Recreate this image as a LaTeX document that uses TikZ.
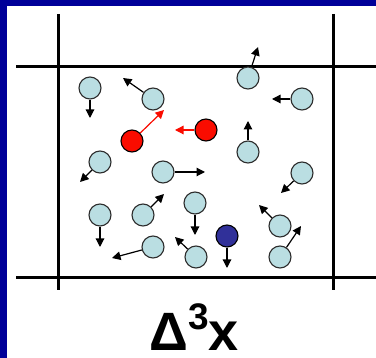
\documentclass[tikz,border=0pt]{standalone}
\usepackage{fontspec}
\setmainfont{Liberation Sans}
\usetikzlibrary{arrows.meta}
\definecolor{frameblue}{RGB}{0,0,153}
\definecolor{gasfill}{RGB}{186,222,226}
\definecolor{gasedge}{RGB}{45,45,45}
\definecolor{hotred}{RGB}{250,12,0}
\definecolor{tracer}{RGB}{48,48,153}
\tikzset{
  wall/.style={line width=3pt, black},
  mol/.style={circle, draw=gasedge, line width=1.1pt, fill=gasfill, minimum size=22pt, inner sep=0pt},
  hotmol/.style={mol, fill=hotred, draw=black},
  tracemol/.style={mol, fill=tracer, draw=black},
  vec/.style={line width=1.2pt, black, -{Triangle[length=8.5pt,width=8.5pt]}},
  hotvec/.style={line width=1.2pt, hotred, -{Triangle[length=8.5pt,width=8.5pt]}},
}
\begin{document}
\begin{tikzpicture}[x=1pt,y=-1pt]
\useasboundingbox (0,0) rectangle (376,358);
\fill[frameblue] (0,0) rectangle (376,358);
\fill[white] (7,6) rectangle (376,358);
% walls
\coordinate (v1a) at (58,14); \coordinate (v1b) at (58,290);
\coordinate (v2a) at (333,14); \coordinate (v2b) at (333,290);
\coordinate (h1a) at (16,67); \coordinate (h1b) at (376,67);
\coordinate (h2a) at (16,278); \coordinate (h2b) at (376,278);
\draw[wall] (v1a) -- (v1b);
\draw[wall] (v2a) -- (v2b);
\draw[wall] (h1a) -- (h1b);
\draw[wall] (h2a) -- (h2b);
% molecules
\node[mol] (m1) at (90,88) {};
\node[mol] (m2) at (153,99) {};
\node[hotmol] (m3) at (132,141) {};
\node[hotmol] (m4) at (206,130) {};
\node[mol] (m5) at (248,78) {};
\node[mol] (m6) at (302,99) {};
\node[mol] (m7) at (248,152) {};
\node[mol] (m8) at (100,162) {};
\node[mol] (m9) at (163,172) {};
\node[mol] (m10) at (302,173) {};
\node[mol] (m11) at (100,215) {};
\node[mol] (m12) at (143,215) {};
\node[mol] (m13) at (195,203) {};
\node[mol] (m14) at (153,247) {};
\node[mol] (m15) at (196,257) {};
\node[tracemol] (m16) at (227,236) {};
\node[mol] (m17) at (280,226) {};
\node[mol] (m18) at (280,257) {};
% velocity tips
\coordinate (t1) at (90,118);
\coordinate (t2) at (123,78);
\coordinate (t3) at (164,110);
\coordinate (t4) at (175,130);
\coordinate (t5) at (258,47);
\coordinate (t6) at (272,99);
\coordinate (t7) at (248,121);
\coordinate (t8) at (80,182);
\coordinate (t9) at (205,172);
\coordinate (t10) at (281,193);
\coordinate (t11) at (100,247);
\coordinate (t12) at (164,194);
\coordinate (t13) at (195,235);
\coordinate (t14) at (112,258);
\coordinate (t15) at (175,237);
\coordinate (t16) at (227,268);
\coordinate (t17) at (259,205);
\coordinate (t18) at (301,226);
\draw[vec] (m1) -- (t1);
\draw[vec] (m2) -- (t2);
\draw[hotvec] (m3) -- (t3);
\draw[hotvec] (m4) -- (t4);
\draw[vec] (m5) -- (t5);
\draw[vec] (m6) -- (t6);
\draw[vec] (m7) -- (t7);
\draw[vec] (m8) -- (t8);
\draw[vec] (m9) -- (t9);
\draw[vec] (m10) -- (t10);
\draw[vec] (m11) -- (t11);
\draw[vec] (m12) -- (t12);
\draw[vec] (m13) -- (t13);
\draw[vec] (m14) -- (t14);
\draw[vec] (m15) -- (t15);
\draw[vec] (m16) -- (t16);
\draw[vec] (m17) -- (t17);
\draw[vec] (m18) -- (t18);
% label
\node[anchor=base, inner sep=0pt, font=\bfseries\fontsize{54}{58}\selectfont] (lbl) at (194,351) {Δ\raisebox{21pt}{\fontsize{37}{40}\selectfont 3}x};
\end{tikzpicture}
\end{document}
